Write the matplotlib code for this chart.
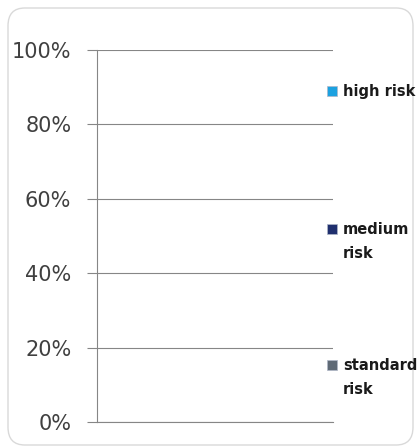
import matplotlib
matplotlib.use("Agg")
import matplotlib.pyplot as plt
from matplotlib.patches import FancyBboxPatch, Rectangle
import numpy as np

# Data (the chart shows no visible bars: all series are empty)
categories = [""]
series_names = ["standard\nrisk", "medium\nrisk", "high risk"]
standard_risk = [0]
medium_risk = [0]
high_risk = [0]
colors = ["#5f6a76", "#1f2f6e", "#1ca1e0"]
yticks = [0, 20, 40, 60, 80, 100]
ytick_labels = ["0%", "20%", "40%", "60%", "80%", "100%"]

plt.rcParams['font.family'] = ['DejaVu Sans']

W, H = 420, 447
fig = plt.figure(figsize=(W / 100, H / 100), dpi=100)

# rounded border
border = FancyBboxPatch((8 / W, 2 / H), 405 / W, 437 / H,
                        boxstyle="round,pad=0,rounding_size=0.04",
                        transform=fig.transFigure, facecolor="none",
                        edgecolor="#d9d9d9", linewidth=1.0, zorder=-1)
fig.patches.append(border)

ax = fig.add_axes([97 / W, 25 / H, 236 / W, 372 / H])
ax.set_facecolor("none")

x = np.arange(len(categories))
bottom = np.zeros(len(categories))
for vals, c in zip([standard_risk, medium_risk, high_risk], colors):
    ax.bar(x, vals, bottom=bottom, color=c, width=0.6)
    bottom += np.array(vals)

ax.set_ylim(0, 100)
ax.set_xlim(-0.5, len(categories) - 0.5)
ax.set_yticks(yticks)
ax.set_yticklabels(ytick_labels, fontsize=15, color="#404040")
ax.set_xticks([])
ax.yaxis.grid(True, color="#868686", linewidth=0.8)
ax.set_axisbelow(True)
for s in ["top", "right"]:
    ax.spines[s].set_visible(False)
ax.spines["left"].set_color("#868686")
ax.spines["left"].set_linewidth(0.8)
ax.spines["bottom"].set_color("#868686")
ax.spines["bottom"].set_linewidth(0.8)
ax.tick_params(axis="y", length=7, color="#868686", width=0.8, pad=11.5)

# legend entries (manual, Excel-style positions)
legend_pos = [(365, "standard\nrisk", colors[0]),
              (229, "medium\nrisk", colors[1]),
              (91, "high risk", colors[2])]
for yc, label, c in legend_pos:
    fig.patches.append(Rectangle((327 / W, (H - yc - 5) / H), 10 / W, 10 / H,
                                 transform=fig.transFigure, facecolor=c,
                                 edgecolor="#b0b8c8", linewidth=0.5))
    fig.text(343 / W, (H - yc + 7) / H, label, fontsize=10.5, fontweight="bold",
             color="#1a1a1a", va="top", ha="left", linespacing=1.75)

fig.savefig("out.png", dpi=100)
